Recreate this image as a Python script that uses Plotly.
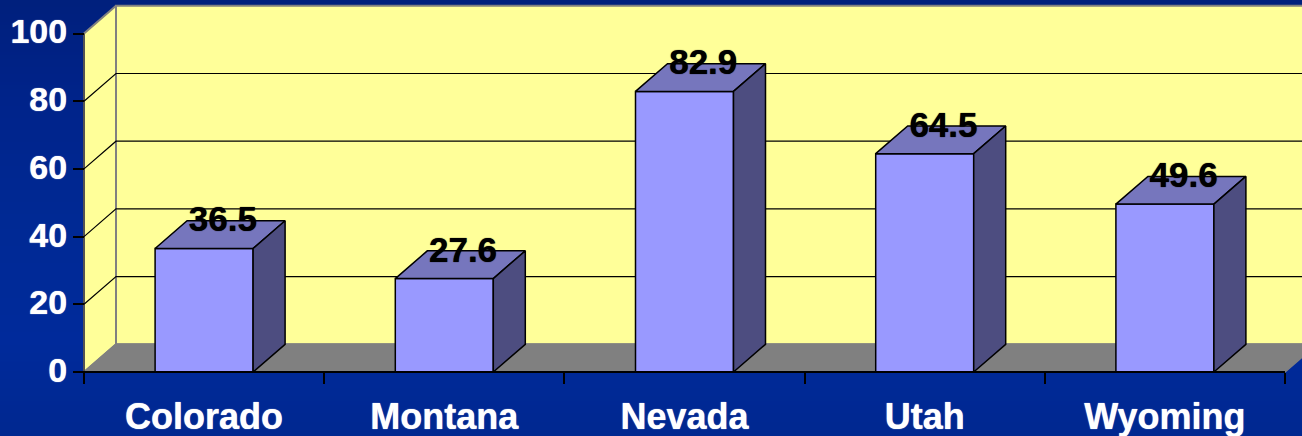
import plotly.graph_objects as go

categories = ["Colorado", "Montana", "Nevada", "Utah", "Wyoming"]
values = [36.5, 27.6, 82.9, 64.5, 49.6]
y_ticks = [0, 20, 40, 60, 80, 100]

BG = "#00288F"
BG_STOPS = ["#001F7A", "#00238A", "#002994", "#002A9B", "#00278D"]   # top to bottom
BG_ROWS_PX = [-20, 100, 220, 340, 460]
WALL = "#FFFF99"
FLOOR = "#808080"
GREY = "#808080"
FRONT = "#9999FF"
TOP = "#7676BD"
SIDE = "#4D4D80"
FONT = "Liberation Sans, Arial, sans-serif"

W, H = 1302, 436
ORIGIN_X, ORIGIN_Y = 84, 372      # pixel position of the chart's front-left corner
CAT_PX = 240.2                    # pixels per category
UNIT_PX = 3.385                   # pixels per value unit

# Oblique projection offsets of the fake 3D box, in data units
DX = 32 / CAT_PX
DY = 27.7 / UNIT_PX
BAR_W = 0.408
n = len(categories)
centers = [i + 0.5 for i in range(n)]
x_range = [-ORIGIN_X / CAT_PX, (W - ORIGIN_X) / CAT_PX]
y_range = [-(H - ORIGIN_Y) / UNIT_PX, ORIGIN_Y / UNIT_PX]


def polys(list_of_polys):
    xs, ys = [], []
    for p in list_of_polys:
        for (a, b) in p + [p[0]]:
            xs.append(a)
            ys.append(b)
        xs.append(None)
        ys.append(None)
    return xs, ys


def poly_trace(list_of_polys, fill, line, width=1.5, xa="x", ya="y"):
    xs, ys = polys(list_of_polys)
    return go.Scatter(x=xs, y=ys, mode="lines", fill="toself", fillcolor=fill,
                      line=dict(color=line, width=width),
                      hoverinfo="skip", showlegend=False, xaxis=xa, yaxis=ya)


fig = go.Figure()

# slide background gradient
bg_y = [(ORIGIN_Y - p) / UNIT_PX for p in BG_ROWS_PX][::-1]
bg_levels = [i / (len(BG_STOPS) - 1) for i in range(len(BG_STOPS))]
fig.add_trace(go.Heatmap(x=[x_range[0] - 1, x_range[1] + 1], y=bg_y,
                         z=[[lv, lv] for lv in bg_levels[::-1]],
                         colorscale=[[lv, c] for lv, c in zip(bg_levels, BG_STOPS)],
                         zmin=0, zmax=1, zsmooth="best", showscale=False, hoverinfo="skip"))

top_v = y_ticks[-1]
# floor, back wall and left wall
fig.add_trace(poly_trace([[(DX, DY), (n + DX, DY), (n + DX, top_v + DY), (DX, top_v + DY)]], WALL, GREY, 2))
fig.add_trace(poly_trace([[(0, 0), (DX, DY), (DX, top_v + DY), (0, top_v)]], WALL, GREY, 2))
fig.add_trace(poly_trace([[(0, 0), (n, 0), (n + DX, DY), (DX, DY)]], FLOOR, GREY))
fig.add_trace(go.Scatter(x=[0, 0], y=[0, top_v], mode="lines", line=dict(color="#444444", width=1.5),
                         hoverinfo="skip", showlegend=False))

# gridlines, wrapping round the left wall and the back wall
gx, gy = [], []
for v in y_ticks[1:-1]:
    gx += [0, DX, n + DX, None]
    gy += [v, v + DY, v + DY, None]
fig.add_trace(go.Scatter(x=gx, y=gy, mode="lines", line=dict(color="#000000", width=1.2),
                         hoverinfo="skip", showlegend=False))

# bars on an overlay axis pair so they stay above the walls
fig.add_trace(go.Bar(x=centers, y=values, width=BAR_W,
                     marker=dict(color=FRONT, line=dict(color="#000000", width=1.5)),
                     hoverinfo="skip", showlegend=False, xaxis="x2", yaxis="y2"))
h = BAR_W / 2
fig.add_trace(poly_trace([[(c - h, v), (c + h, v), (c + h + DX, v + DY), (c - h + DX, v + DY)]
                          for c, v in zip(centers, values)], TOP, "#000000", xa="x2", ya="y2"))
fig.add_trace(poly_trace([[(c + h, 0), (c + h + DX, DY), (c + h + DX, v + DY), (c + h, v)]
                          for c, v in zip(centers, values)], SIDE, "#000000", xa="x2", ya="y2"))

# front edge of the floor
fig.add_trace(go.Scatter(x=[0, n], y=[0, 0], mode="lines", line=dict(color="#000000", width=2),
                         hoverinfo="skip", showlegend=False, xaxis="x2", yaxis="y2"))

# value labels
fig.add_trace(go.Scatter(x=[c + 0.078 for c in centers], y=[v + 7.6 for v in values],
                         mode="text", text=[f"{v:.1f}" for v in values], textposition="middle center",
                         textfont=dict(family=FONT, size=35, color="#000000", weight="bold",
                                       shadow="0 0 1px #000000"),
                         hoverinfo="skip", showlegend=False, xaxis="x2", yaxis="y2"))

fig.update_layout(
    width=W, height=H, autosize=False,
    margin=dict(l=0, r=0, t=0, b=0, pad=0),
    paper_bgcolor=BG, plot_bgcolor=BG,
    showlegend=False,
    xaxis=dict(range=x_range, domain=[0, 1], anchor="free", position=(H - ORIGIN_Y) / H, automargin=False,
               tickmode="array", tickvals=centers, ticktext=categories, ticks="",
               showgrid=False, zeroline=False, showline=False,
               ticklabelstandoff=20,
               tickfont=dict(family=FONT, size=36, color="#FFFFFF", weight="bold",
                             shadow="0 0 1px #FFFFFF"),
               minor=dict(tickmode="array", tickvals=list(range(n + 1)), ticks="outside", ticklen=11,
                          tickcolor="#000000", tickwidth=1.5, showgrid=False)),
    yaxis=dict(range=y_range, domain=[0, 1], anchor="free", position=ORIGIN_X / W, automargin=False,
               tickmode="array", tickvals=y_ticks, ticks="outside", ticklen=11,
               tickcolor="#000000", tickwidth=1.5, showgrid=False, zeroline=False, showline=False,
               tickfont=dict(family=FONT, size=34, color="#FFFFFF", weight="bold",
                             shadow="0 0 1px #FFFFFF"),
               ticklabelstandoff=-1, ticklabelshift=-2),
    xaxis2=dict(range=x_range, overlaying="x", visible=False),
    yaxis2=dict(range=y_range, overlaying="y", visible=False),
)

fig.write_html("out.html", config={"displayModeBar": False},
               post_script="document.body.style.margin='0';document.body.style.overflow='hidden';")
